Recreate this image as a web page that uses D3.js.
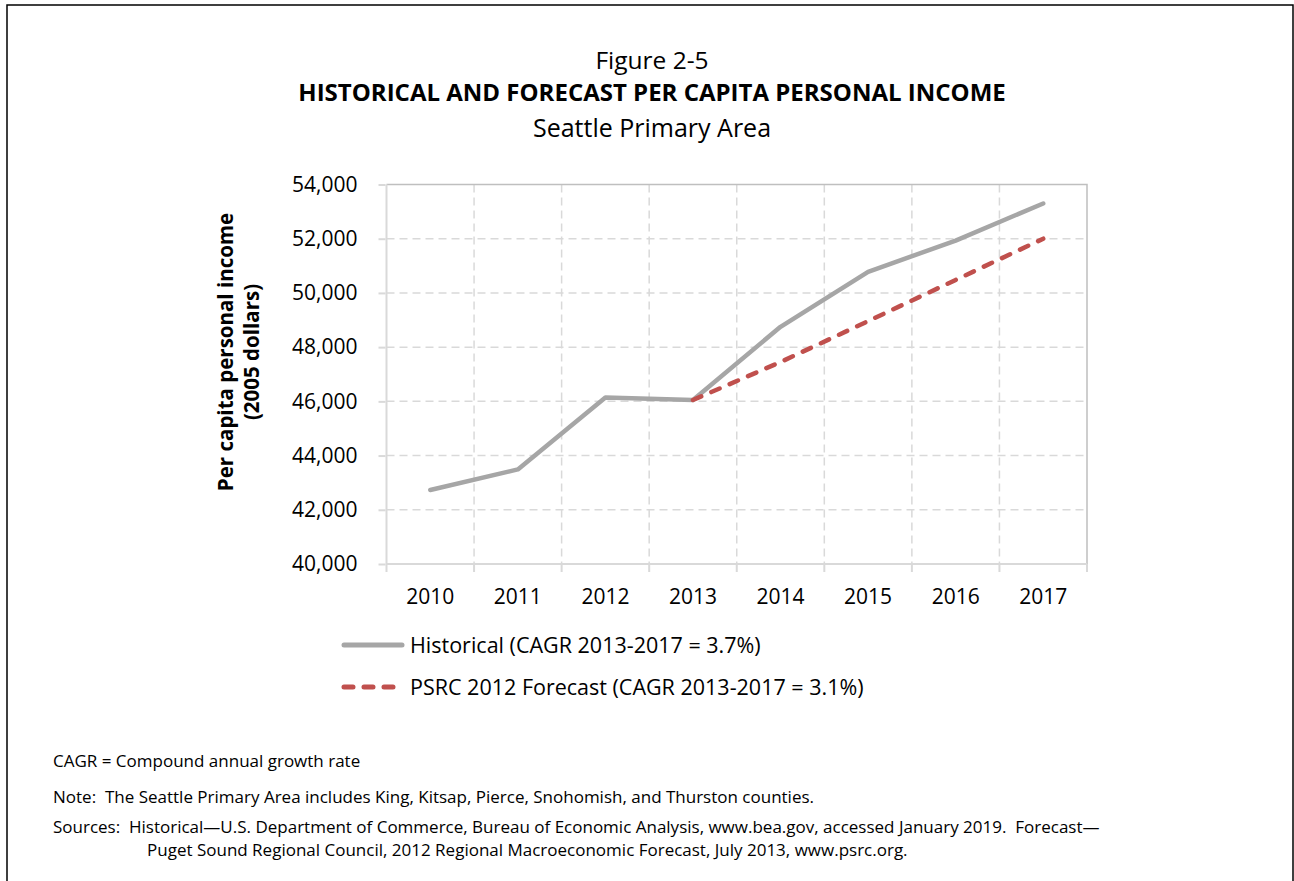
<!DOCTYPE html>
<meta charset="utf-8">
<style>
body { margin: 0; background: #fff; }
text { font-family: "Open Sans", Lato, sans-serif; fill: #000; }
.grid line { stroke: #d9d9d9; stroke-width: 1.5px; stroke-dasharray: 8,5; }
.note { font-size: 17px; }
</style>
<svg width="1294" height="881"></svg>
<script src="https://cdn.jsdelivr.net/npm/d3@7"></script>
<script>

var years = ["2010", "2011", "2012", "2013", "2014", "2015", "2016", "2017"];
var historical = [42730, 43490, 46140, 46050, 48750, 50780, 51930, 53300];
var forecast = [null, null, null, 46050, 47450, 48960, 50480, 52000];
var yTicks = [40000, 42000, 44000, 46000, 48000, 50000, 52000, 54000];

var svg = d3.select("svg");

// outer frame
svg.append("path")
    .attr("d", "M7,900V5H1293V900")
    .attr("fill", "none")
    .attr("stroke", "#000")
    .attr("stroke-width", 1.5);

// titles
svg.append("text").attr("x", 652).attr("y", 69).attr("text-anchor", "middle")
    .style("font-size", "24.5px").text("Figure 2-5");
svg.append("text").attr("x", 652).attr("y", 101).attr("text-anchor", "middle")
    .style("font-size", "24px").style("font-weight", "bold")
    .text("HISTORICAL AND FORECAST PER CAPITA PERSONAL INCOME");
svg.append("text").attr("x", 652).attr("y", 137).attr("text-anchor", "middle")
    .style("font-size", "25px").text("Seattle Primary Area");

var pLeft = 386.5, pRight = 1087, pTop = 184.5, pBottom = 564;

var x = d3.scaleBand().domain(years).range([pLeft, pRight]);
var y = d3.scaleLinear().domain([40000, 54000]).range([pBottom, pTop]);

// grid
var grid = svg.append("g").attr("class", "grid");
grid.selectAll(".h").data(yTicks.slice(1, -1)).enter().append("line")
    .attr("x1", pLeft).attr("x2", pRight)
    .attr("y1", function(d) { return y(d); })
    .attr("y2", function(d) { return y(d); });
grid.selectAll(".v").data(years.slice(1)).enter().append("line")
    .attr("x1", function(d) { return x(d); })
    .attr("x2", function(d) { return x(d); })
    .attr("y1", pTop).attr("y2", pBottom);

// plot border
svg.append("path")
    .attr("d", "M" + pLeft + "," + pTop + "H" + pRight + "V" + pBottom)
    .attr("fill", "none").attr("stroke", "#bfbfbf").attr("stroke-width", 1.5);

// axes
var yAxis = svg.append("g")
    .attr("transform", "translate(" + pLeft + ",0)")
    .call(d3.axisLeft(y).tickValues(yTicks).tickSize(8).tickPadding(21)
      .tickFormat(d3.format(",")));
var xAxis = svg.append("g")
    .attr("transform", "translate(0," + pBottom + ")")
    .call(d3.axisBottom(x).tickSize(0).tickPadding(25));
xAxis.selectAll(".tk").data(years.concat(["end"])).enter().append("line")
    .attr("class", "tk")
    .attr("x1", function(d, i) { return pLeft + i * x.bandwidth(); })
    .attr("x2", function(d, i) { return pLeft + i * x.bandwidth(); })
    .attr("y1", 0).attr("y2", 8);
[yAxis, xAxis].forEach(function(a) {
  a.select(".domain").attr("stroke", "#d9d9d9").attr("stroke-width", 2);
  a.selectAll("line").attr("stroke", "#d9d9d9").attr("stroke-width", 2);
  a.selectAll("text").style("font-size", "21px").attr("fill", "#000");
});
yAxis.selectAll(".tick line").attr("x1", -1);
yAxis.select(".domain").attr("d", "M0," + pBottom + "V" + pTop);
xAxis.select(".domain").attr("d", "M" + pLeft + ",0H" + pRight);

// y title
var yt = svg.append("text")
    .attr("transform", "translate(233,352) rotate(-90)")
    .attr("text-anchor", "middle")
    .style("font-size", "20.5px").style("font-weight", "bold");
yt.append("tspan").attr("x", 0).attr("y", 0).text("Per capita personal income");
yt.append("tspan").attr("x", 0).attr("y", 26).text("(2005 dollars)");

// lines
var cx = function(i) { return x(years[i]) + x.bandwidth() / 2; };
var line = d3.line()
    .defined(function(d) { return d != null; })
    .x(function(d, i) { return cx(i); })
    .y(function(d) { return y(d); });

svg.append("path").datum(historical)
    .attr("d", line).attr("fill", "none")
    .attr("stroke", "#a6a6a6").attr("stroke-width", 4.5)
    .attr("stroke-linecap", "round").attr("stroke-linejoin", "round");
svg.append("path").datum(forecast)
    .attr("d", line).attr("fill", "none")
    .attr("stroke", "#c0504d").attr("stroke-width", 4.5)
    .attr("stroke-linecap", "round").attr("stroke-dasharray", "9,11");

// legend
var legend = [
  {label: "Historical (CAGR 2013-2017 = 3.7%)", color: "#a6a6a6", dash: null, y: 645},
  {label: "PSRC 2012 Forecast (CAGR 2013-2017 = 3.1%)", color: "#c0504d", dash: "9,11", y: 687}
];
var lg = svg.selectAll(".lg").data(legend).enter().append("g").attr("class", "lg");
lg.append("line")
    .attr("x1", 344).attr("x2", 402)
    .attr("y1", function(d) { return d.y; }).attr("y2", function(d) { return d.y; })
    .attr("stroke", function(d) { return d.color; })
    .attr("stroke-width", 5).attr("stroke-linecap", "round")
    .attr("stroke-dasharray", function(d) { return d.dash; });
lg.append("text")
    .attr("x", 410).attr("y", function(d) { return d.y + 7.5; })
    .style("font-size", "21.5px")
    .text(function(d) { return d.label; });

// notes
var notes = [
  {t: "CAGR = Compound annual growth rate", x: 53, y: 767},
  {t: "Note:  The Seattle Primary Area includes King, Kitsap, Pierce, Snohomish, and Thurston counties.", x: 53, y: 803},
  {t: "Sources:  Historical\u2014U.S. Department of Commerce, Bureau of Economic Analysis, www.bea.gov, accessed January 2019.  Forecast\u2014", x: 53, y: 833},
  {t: "Puget Sound Regional Council, 2012 Regional Macroeconomic Forecast, July 2013, www.psrc.org.", x: 147, y: 856}
];
svg.selectAll(".note").data(notes).enter().append("text")
    .attr("class", "note")
    .attr("x", function(d) { return d.x; })
    .attr("y", function(d) { return d.y; })
    .attr("xml:space", "preserve")
    .style("white-space", "pre")
    .text(function(d) { return d.t; });

</script>
